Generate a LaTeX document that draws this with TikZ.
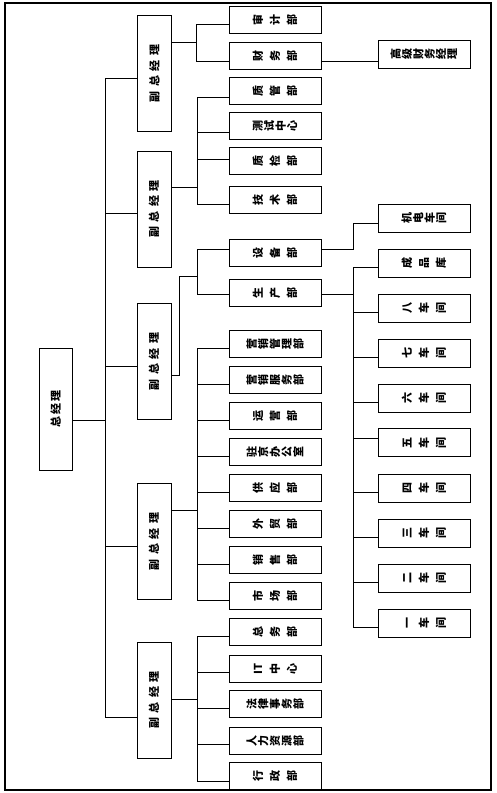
\documentclass[tikz,border=0pt]{standalone}
\usepackage{fontspec}
\usepackage{graphicx}
\newfontfamily\cjk{Noto Sans CJK SC}
\newcommand\rc[1]{\rotatebox{90}{\rule[-0.12em]{0pt}{1em}#1}}
\makeatletter
\newcommand\rtext[2]{\def\rt@first{1}\@tfor\rt@c:=#2\do{\ifx\rt@first\@empty\hspace{#1}\fi\let\rt@first\@empty\rc{\rt@c}}}
\makeatother
\tikzset{
  ln/.style={line width=0.9pt},
  dept/.style={draw, line width=0.9pt, minimum width=92pt, minimum height=27pt, inner sep=0pt, font=\cjk\bfseries\fontsize{11pt}{12pt}\selectfont},
  vpb/.style={draw, line width=0.9pt, minimum width=34pt, minimum height=116pt, inner sep=0pt, font=\cjk\bfseries\fontsize{11pt}{12pt}\selectfont},
}
\newcommand\br[3]{\coordinate (#1j) at (#2,#3); \draw[ln] (#1j) -- (#1.west|-#1j);}
\begin{document}
\begin{tikzpicture}[x=1pt,y=-1pt]
\useasboundingbox (0,0) rectangle (496,793);
\draw[line width=2.2pt] (5,3) rectangle (491,790);
% president and vice presidents
\node[vpb, minimum height=122pt, minimum width=33pt] (ceo) at (55.5,409) {\rotatebox{90}{总\hspace{2pt}经\hspace{2pt}理}};
\node[vpb] (vp1) at (154.5,73.5) {\rotatebox{90}{副\hspace{4.5pt}总\hspace{4.5pt}经\hspace{4.5pt}理}};
\node[vpb] (vp2) at (154,209) {\rotatebox{90}{副\hspace{4.5pt}总\hspace{4.5pt}经\hspace{4.5pt}理}};
\node[vpb] (vp3) at (154,361.5) {\rotatebox{90}{副\hspace{4.5pt}总\hspace{4.5pt}经\hspace{4.5pt}理}};
\node[vpb] (vp4) at (154,541.5) {\rotatebox{90}{副\hspace{4.5pt}总\hspace{4.5pt}经\hspace{4.5pt}理}};
\node[vpb] (vp5) at (154,700) {\rotatebox{90}{副\hspace{4.5pt}总\hspace{4.5pt}经\hspace{4.5pt}理}};
% group 1
\node[dept] (a1) at (275,20) {\rtext{6pt}{审计部}};
\node[dept] (a2) at (275,55.5) {\rtext{6pt}{财务部}};
\node[dept, minimum height=28pt] (af) at (424,54) {\rtext{0.3pt}{高级财务经理}};
% group 2
\node[dept] (b1) at (275,90.5) {\rtext{6pt}{质管部}};
\node[dept] (b2) at (275,125.5) {\rtext{0.5pt}{测试中心}};
\node[dept] (b3) at (275,160.5) {\rtext{6pt}{质检部}};
\node[dept] (b4) at (275,199.5) {\rtext{6pt}{技术部}};
% group 3
\node[dept] (c1) at (275,252.5) {\rtext{6pt}{设备部}};
\node[dept] (c2) at (275,292.5) {\rtext{6pt}{生产部}};
\node[dept, minimum height=28pt] (w0) at (424,218) {\rtext{0.5pt}{机电车间}};
\node[dept, minimum height=28pt] (w1) at (424,263) {\rtext{6pt}{成品库}};
\node[dept, minimum height=28pt] (w2) at (424,308) {\rtext{6pt}{八车间}};
\node[dept, minimum height=28pt] (w3) at (424,353) {\rtext{6pt}{七车间}};
\node[dept, minimum height=28pt] (w4) at (424,398) {\rtext{6pt}{六车间}};
\node[dept, minimum height=28pt] (w5) at (424,442.5) {\rtext{6pt}{五车间}};
\node[dept, minimum height=28pt] (w6) at (424,488) {\rtext{6pt}{四车间}};
\node[dept, minimum height=28pt] (w7) at (424,533) {\rtext{6pt}{三车间}};
\node[dept, minimum height=28pt] (w8) at (424,578) {\rtext{6pt}{二车间}};
\node[dept, minimum height=28pt] (w9) at (424,623) {\rtext{6pt}{一车间}};
% group 4
\node[dept] (d1) at (275,343.5) {\rtext{0.7pt}{营销管理部}};
\node[dept] (d2) at (275,379.5) {\rtext{0.7pt}{营销服务部}};
\node[dept] (d3) at (275,415.5) {\rtext{6pt}{运营部}};
\node[dept] (d4) at (275,451.5) {\rtext{0.7pt}{驻京办公室}};
\node[dept] (d5) at (275,487.5) {\rtext{6pt}{供应部}};
\node[dept] (d6) at (275,523.5) {\rtext{6pt}{外贸部}};
\node[dept] (d7) at (275,559.5) {\rtext{6pt}{销售部}};
\node[dept] (d8) at (275,595.5) {\rtext{6pt}{市场部}};
% group 5
\node[dept] (e1) at (275,631.5) {\rtext{6pt}{总务部}};
\node[dept] (e2) at (275,668.5) {\rc{IT}\hspace{6pt}\rc{中}\hspace{6pt}\rc{心}};
\node[dept] (e3) at (275,703.5) {\rtext{0.7pt}{法律事务部}};
\node[dept] (e4) at (275,740.5) {\rtext{0.7pt}{人力资源部}};
\node[dept] (e5) at (275,775.5) {\rtext{6pt}{行政部}};
% trunk
\coordinate (t1) at (105,78);
\coordinate (t2) at (105,213);
\coordinate (t3) at (105,366);
\coordinate (t4) at (105,546);
\coordinate (t5) at (105,717);
\coordinate (tc) at (105,420);
\draw[ln] (t1) -- (t5);
\draw[ln] (ceo.east|-tc) -- (tc);
\draw[ln] (t1) -- (vp1.west|-t1);
\draw[ln] (t2) -- (vp2.west|-t2);
\draw[ln] (t3) -- (vp3.west|-t3);
\draw[ln] (t4) -- (vp4.west|-t4);
\draw[ln] (t5) -- (vp5.west|-t5);
% vp1 branches
\coordinate (p1) at (196,42);
\draw[ln] (vp1.east|-p1) -- (p1);
\br{a1}{196}{24} \br{a2}{196}{61}
\draw[ln] (a1j) -- (a2j);
\coordinate (afj) at (378,61);
\draw[ln] (a2.east|-afj) -- (af.west|-afj);
% vp2 branches
\coordinate (p2) at (197,187);
\draw[ln] (vp2.east|-p2) -- (p2);
\br{b1}{197}{97} \br{b2}{197}{132} \br{b3}{197}{159} \br{b4}{197}{204}
\draw[ln] (b1j) -- (b4j);
% vp3 branches
\coordinate (p3) at (179,375);
\coordinate (p3b) at (197,276);
\draw[ln] (vp3.east|-p3) -- (p3) |- (p3b);
\br{c1}{197}{249} \br{c2}{197}{294}
\draw[ln] (c1j) -- (c2j);
\coordinate (q1) at (353,249);
\coordinate (q1b) at (353,223);
\draw[ln] (c1.east|-q1) -- (q1) -- (q1b) -- (w0.west|-q1b);
\coordinate (q2) at (353,294);
\draw[ln] (c2.east|-q2) -- (q2);
\br{w1}{353}{267} \br{w2}{353}{312} \br{w3}{353}{357} \br{w4}{353}{402} \br{w5}{353}{438}
\br{w6}{353}{492} \br{w7}{353}{537} \br{w8}{353}{582} \br{w9}{353}{627}
\draw[ln] (w1j) -- (w9j);
% vp4 branches
\coordinate (p4) at (197,510);
\draw[ln] (vp4.east|-p4) -- (p4);
\br{d1}{197}{348} \br{d2}{197}{384} \br{d3}{197}{420} \br{d4}{197}{456}
\br{d5}{197}{492} \br{d6}{197}{528} \br{d7}{197}{564} \br{d8}{197}{600}
\draw[ln] (d1j) -- (d8j);
% vp5 branches
\coordinate (p5) at (197,699);
\draw[ln] (vp5.east|-p5) -- (p5);
\br{e1}{197}{636} \br{e2}{197}{672} \br{e3}{197}{708} \br{e4}{197}{744} \br{e5}{197}{781}
\draw[ln] (e1j) -- (e5j);
\end{tikzpicture}
\end{document}
